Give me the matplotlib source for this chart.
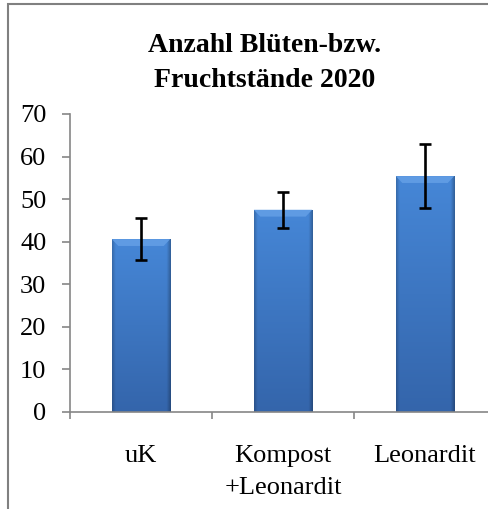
import numpy as np
import matplotlib
matplotlib.use("Agg")
import matplotlib.pyplot as plt
from matplotlib.patches import Rectangle, Polygon
from matplotlib.colors import to_rgb

# Daten
kategorien = ["uK", "Kompost\n+Leonardit", "Leonardit"]
mittelwerte = [40.6, 47.5, 55.4]
fehler = [4.9, 4.2, 7.5]
y_ticks = [0, 10, 20, 30, 40, 50, 60, 70]

plt.rcParams['font.family'] = ['Liberation Serif', 'DejaVu Serif']

fig = plt.figure(figsize=(4.88, 5.09), dpi=100)
ax = fig.add_axes([70 / 488, 1 - 412 / 509, 426 / 488, 298 / 509])

x = np.arange(len(kategorien))
balken = ax.bar(x, mittelwerte, width=0.41, color="#3a77c6", edgecolor="#2a5590",
                linewidth=0.6, zorder=2)

# Farbverlauf wie in Excel: oben heller, unten dunkler, Ränder dunkler
oben = np.array(to_rgb("#4687d7"))
unten = np.array(to_rgb("#3465ab"))
t = np.linspace(0, 1, 200)[:, None]
rand = np.linspace(0, 1, 120)
kante = np.clip(np.minimum(rand, 1 - rand) / 0.06, 0, 1) * 0.2 + 0.8
kante[rand > 0.5] = np.clip((1 - rand[rand > 0.5]) / 0.07, 0, 1) * 0.28 + 0.72
verlauf = (oben * (1 - t) + unten * t)[:, None, :] * kante[None, :, None]

for b in balken:
    bx, by, bw, bh = b.get_x(), b.get_y(), b.get_width(), b.get_height()
    im = ax.imshow(verlauf, aspect="auto", zorder=2.5, interpolation="bilinear",
                   extent=[bx, bx + bw, by, by + bh])
    im.set_clip_path(b)
    # Fase oben
    d = 0.045
    dy = 1.6
    ax.add_patch(Polygon([(bx, by + bh), (bx + bw, by + bh),
                          (bx + bw - d, by + bh - dy), (bx + d, by + bh - dy)],
                         closed=True, facecolor="#5f9be3", edgecolor="none",
                         zorder=2.6))

ax.errorbar(x, mittelwerte, yerr=fehler, fmt="none", ecolor="black",
            elinewidth=1.9, capsize=4.5, capthick=1.9, zorder=4)

ax.set_xlim(-0.5, len(kategorien) - 0.5)
ax.set_ylim(0, 70)
ax.set_yticks(y_ticks)
ax.set_xticks(x)
ax.set_xticklabels(kategorien, fontsize=19, linespacing=1.55)
ax.set_xticks(np.arange(len(kategorien) + 1) - 0.5, minor=True)
ax.tick_params(axis="x", which="major", length=0, pad=24)
ax.tick_params(axis="x", which="minor", length=5, width=1.2, color="#868686")
ax.tick_params(axis="y", length=6, width=1.2, color="#868686", pad=11,
               labelsize=19)

for s in ["top", "right"]:
    ax.spines[s].set_visible(False)
for s in ["left", "bottom"]:
    ax.spines[s].set_color("#868686")
    ax.spines[s].set_linewidth(1.2)

fig.text(265 / 488, 1 - 63 / 509, "Anzahl Blüten-bzw.\nFruchtstände 2020",
         ha="center", va="center", fontsize=20, fontweight="bold",
         linespacing=1.5)

# Rahmen des Diagramms
fig.patches.append(Rectangle((8 / 488, -0.1), 1.2, 1 - 4 / 509 + 0.1,
                             transform=fig.transFigure, fill=False,
                             edgecolor="#808080", linewidth=1.5))

fig.savefig("out.png", dpi=100)
